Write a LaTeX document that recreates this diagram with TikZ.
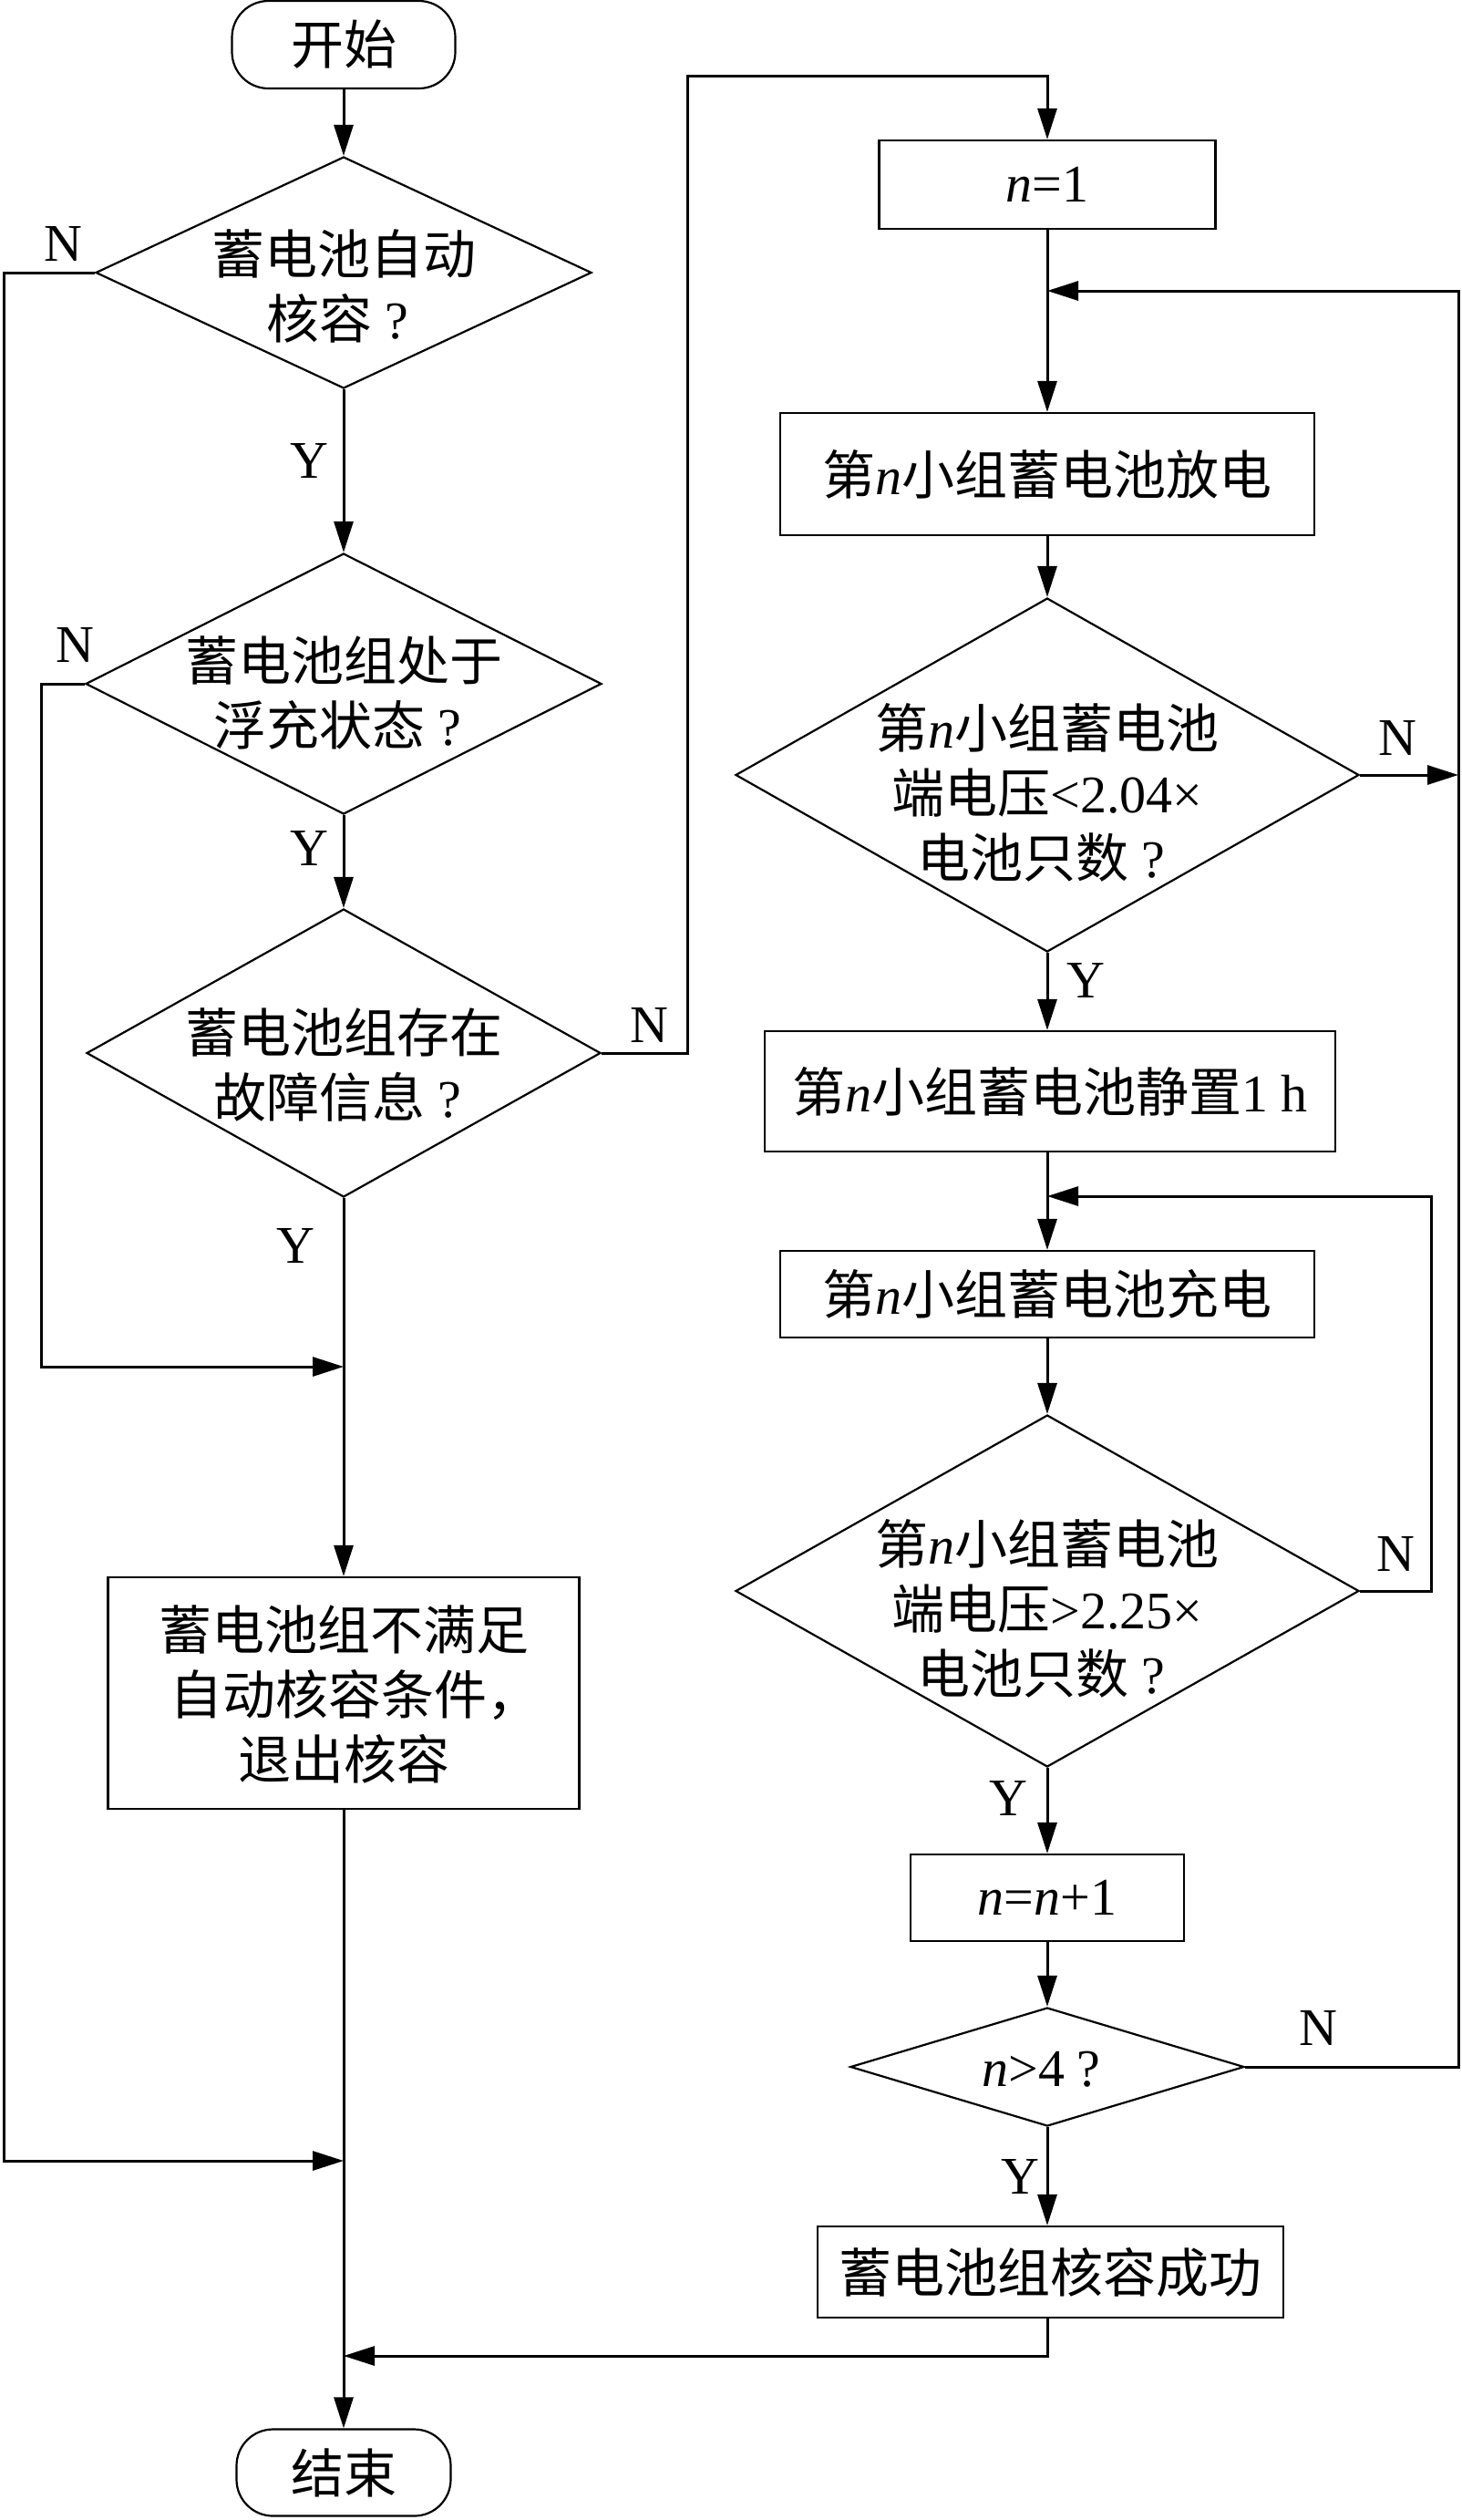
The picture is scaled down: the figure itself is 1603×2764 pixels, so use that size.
\documentclass[tikz,border=0pt]{standalone}
\usepackage{fontspec}
\setmainfont{Noto Sans CJK SC}
\newfontfamily\tnr{Liberation Serif}
\usetikzlibrary{shapes.geometric,arrows.meta}
\newcommand\nvar{{\tnr\itshape n}}
\newcommand\qm{\makebox[0.9em][c]{\tnr ?}}
\begin{document}
\begin{tikzpicture}[x=0.5pt,y=-0.5pt,
  every node/.style={font=\fontsize{29pt}{35.5pt}\selectfont, inner sep=0pt},
  proc/.style={draw, line width=1.1pt, rectangle, align=center},
  term/.style={draw, line width=1.1pt, rectangle, rounded corners=20pt},
  dia/.style={draw, line width=1.1pt, diamond},
  txt/.style={align=center},
  arr/.style={line width=1.5pt, -{Triangle[length=17pt,width=10.5pt]}},
  yn/.style={font=\tnr\fontsize{29pt}{35pt}\selectfont}]
\useasboundingbox (0,0) rectangle (1603,2764);
\fill[white] (0,0) rectangle (1603,2764);

% left column
\node[term, minimum width=122.5pt, minimum height=48pt] (start) at (377,49) {开始};
\node[dia, minimum width=272pt, minimum height=127pt] (d1) at (377,299) {};
\node[txt] (d1t) at (377,314) {蓄电池自动\\核容\qm};
\node[dia, minimum width=283pt, minimum height=143pt] (d2) at (377,750) {};
\node[txt] (d2t) at (377,760) {蓄电池组处于\\浮充状态\qm};
\node[dia, minimum width=282pt, minimum height=158pt] (d3) at (377,1155) {};
\node[txt] (d3t) at (377,1168) {蓄电池组存在\\故障信息\qm};
\node[proc, minimum width=258.5pt, minimum height=127pt] (fail) at (377,1857) {};
\node[txt] (failt) at (377,1858) {蓄电池组不满足\\\ \ 自动核容条件，\\退出核容};
\node[term, minimum width=117.5pt, minimum height=47.5pt] (end) at (377,2712) {结束};

% right column
\node[proc, minimum width=184.5pt, minimum height=48.5pt] (n1) at (1149,202.5) {{\tnr\textit{n}=1}};
\node[proc, minimum width=293pt, minimum height=67pt] (dis) at (1149,520) {第\nvar 小组蓄电池放电};
\node[dia, minimum width=342pt, minimum height=194pt] (d4) at (1149,850) {};
\node[txt] (d4t) at (1149,869) {第\nvar 小组蓄电池\\端电压{\tnr <2.04×}\\电池只数\qm};
\node[proc, minimum width=313pt, minimum height=66pt] (rest) at (1152,1197) {第\nvar 小组蓄电池静置{\tnr 1 h}};
\node[proc, minimum width=293pt, minimum height=47.5pt] (chg) at (1149,1419.5) {第\nvar 小组蓄电池充电};
\node[dia, minimum width=342pt, minimum height=193pt] (d5) at (1149,1745) {};
\node[txt] (d5t) at (1149,1764) {第\nvar 小组蓄电池\\端电压{\tnr >2.25×}\\电池只数\qm};
\node[proc, minimum width=150pt, minimum height=47.5pt] (inc) at (1149,2081.5) {{\tnr\textit{n}=\textit{n}+1}};
\node[dia, minimum width=216pt, minimum height=65pt] (d6) at (1149,2267) {};
\node[txt] (d6t) at (1149,2270) {{\tnr\textit{n}>4}\qm};
\node[proc, minimum width=255.5pt, minimum height=50pt] (ok) at (1152.5,2492) {蓄电池组核容成功};

% junction coordinates
\coordinate (j1) at (377,1499);
\coordinate (j3) at (377,2370);
\coordinate (j4) at (377,2584);
\coordinate (j5) at (1149,319);
\coordinate (j6) at (1149,1312);
\coordinate (d4n) at (1600,850);

% left connectors
\draw[arr] (start.south) -- (d1.north);
\draw[arr] (d1.south) -- (d2.north);
\draw[arr] (d2.south) -- (d3.north);
\draw[arr] (d3.south) -- (fail.north);
\draw[arr] (fail.south) -- (end.north);
\draw[arr] (d1.west) -- (4,299) -- (4,2370) -- (j3);
\draw[arr] (d2.west) -- (45,750) -- (45,1499) -- (j1);
\draw[arr] (d3.east) -- (754,1155) -- (754,83) -- (1149,83) -- (n1.north);

% right connectors
\draw[arr] (n1.south) -- (dis.north);
\draw[arr] (dis.south) -- (d4.north);
\draw[arr] (d4.east) -- (d4n);
\draw[arr] (d4.south) -- (d4.south |- rest.north);
\draw[arr] (chg.north |- rest.south) -- (chg.north);
\draw[arr] (chg.south) -- (d5.north);
\draw[arr] (d5.east) -- (1570,1745) -- (1570,1312) -- (j6);
\draw[arr] (d5.south) -- (inc.north);
\draw[arr] (inc.south) -- (d6.north);
\draw[arr] (d6.south) -- (d6.south |- ok.north);
\draw[arr] (d6.east) -- (1600,2267) -- (1600,319) -- (j5);
\draw[arr] (d6.south |- ok.south) -- (1149,2584) -- (j4);

% labels
\node[yn] (l1) at (69,268) {N};
\node[yn] (l2) at (339,505) {Y};
\node[yn] (l3) at (82,707) {N};
\node[yn] (l4) at (339,930) {Y};
\node[yn] (l5) at (712,1124) {N};
\node[yn] (l6) at (324,1366) {Y};
\node[yn] (l7) at (1533,809) {N};
\node[yn] (l8) at (1191,1075) {Y};
\node[yn] (l9) at (1531,1704) {N};
\node[yn] (l10) at (1106,1972) {Y};
\node[yn] (l11) at (1446,2224) {N};
\node[yn] (l12) at (1119,2387) {Y};
\end{tikzpicture}
\end{document}
